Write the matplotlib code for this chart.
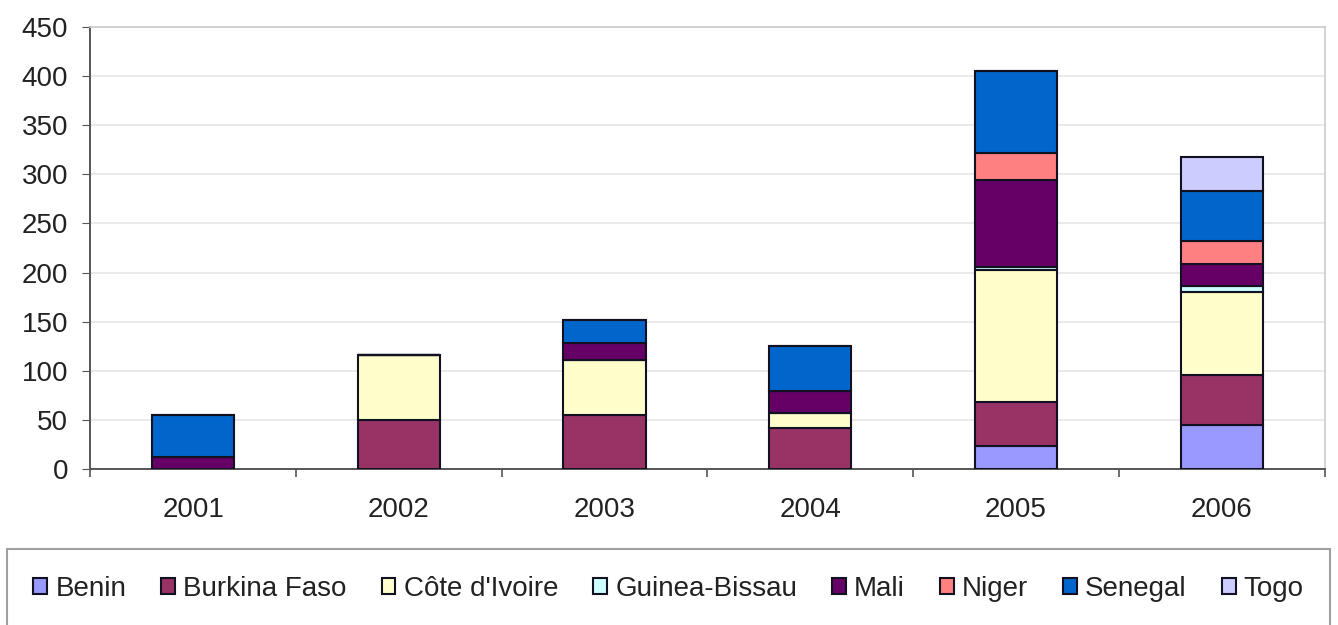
import matplotlib.pyplot as plt
import numpy as np

plt.rcParams['font.family'] = ['Liberation Sans', 'DejaVu Sans']
plt.rcParams['text.color'] = '#222222'

years = ['2001', '2002', '2003', '2004', '2005', '2006']
countries = ['Benin', 'Burkina Faso', "Côte d'Ivoire", 'Guinea-Bissau',
             'Mali', 'Niger', 'Senegal', 'Togo']

benin = [0, 0, 0, 0, 23, 45]
burkina = [0, 50, 55, 42, 45, 51]
cote = [0, 66, 56, 15, 135, 84]
guinea = [0, 0, 0, 0, 3, 6]
mali = [12, 0, 17, 22, 88, 23]
niger = [0, 0, 0, 0, 28, 23]
senegal = [43, 0, 24, 46, 83, 51]
togo = [0, 0, 0, 0, 0, 35]

series = [benin, burkina, cote, guinea, mali, niger, senegal, togo]
colors = ['#9999FF', '#993366', '#FFFFCC', '#CCFFFF',
          '#660066', '#FF8080', '#0066CC', '#CCCCFF']

fig = plt.figure(figsize=(13.38, 6.25), dpi=100)
ax = fig.add_axes([0.0675, 0.2496, 0.9225, 0.7072])

x = np.arange(len(years))
bottom = np.zeros(len(years))
handles = []
for name, vals, col in zip(countries, series, colors):
    v = np.array(vals, dtype=float)
    bars = ax.bar(x, v, width=0.4, bottom=bottom, color=col,
                  edgecolor='#111122', linewidth=1.5, label=name, zorder=3)
    handles.append(bars)
    bottom += v

ax.set_xlim(-0.5, len(years) - 0.5)
ax.set_ylim(0, 450)
ax.set_yticks(np.arange(0, 451, 50))
ax.yaxis.grid(True, color='#e6e6e6', linewidth=1.2, zorder=0)
ax.set_axisbelow(True)

ax.set_xticks(x)
ax.set_xticklabels(years)
ax.set_xticks(np.arange(-0.5, len(years), 1), minor=True)
ax.tick_params(axis='x', which='major', length=0, pad=20, labelsize=20,
               labelcolor='#222222')
ax.tick_params(axis='x', which='minor', length=6, direction='out',
               color='#555555', width=1.2)
ax.tick_params(axis='y', length=6, direction='out', color='#555555',
               labelsize=20, pad=10, labelcolor='#222222')

for side in ['top', 'right']:
    ax.spines[side].set_color('#cccccc')
    ax.spines[side].set_linewidth(1.2)
for side in ['left', 'bottom']:
    ax.spines[side].set_color('#555555')
    ax.spines[side].set_linewidth(1.4)

leg = fig.legend(handles=handles, labels=countries, ncol=8,
                 loc='center', mode='expand',
                 bbox_to_anchor=(0.0052, -0.005, 0.989, 0.1264),
                 fontsize=20, handlelength=0.5, handleheight=0.5,
                 handletextpad=0.3, columnspacing=0.4,
                 fancybox=False, edgecolor='#888888', borderpad=0.95,
                 borderaxespad=0)
leg.get_frame().set_linewidth(1.5)

fig.savefig('out.png', dpi=100)
